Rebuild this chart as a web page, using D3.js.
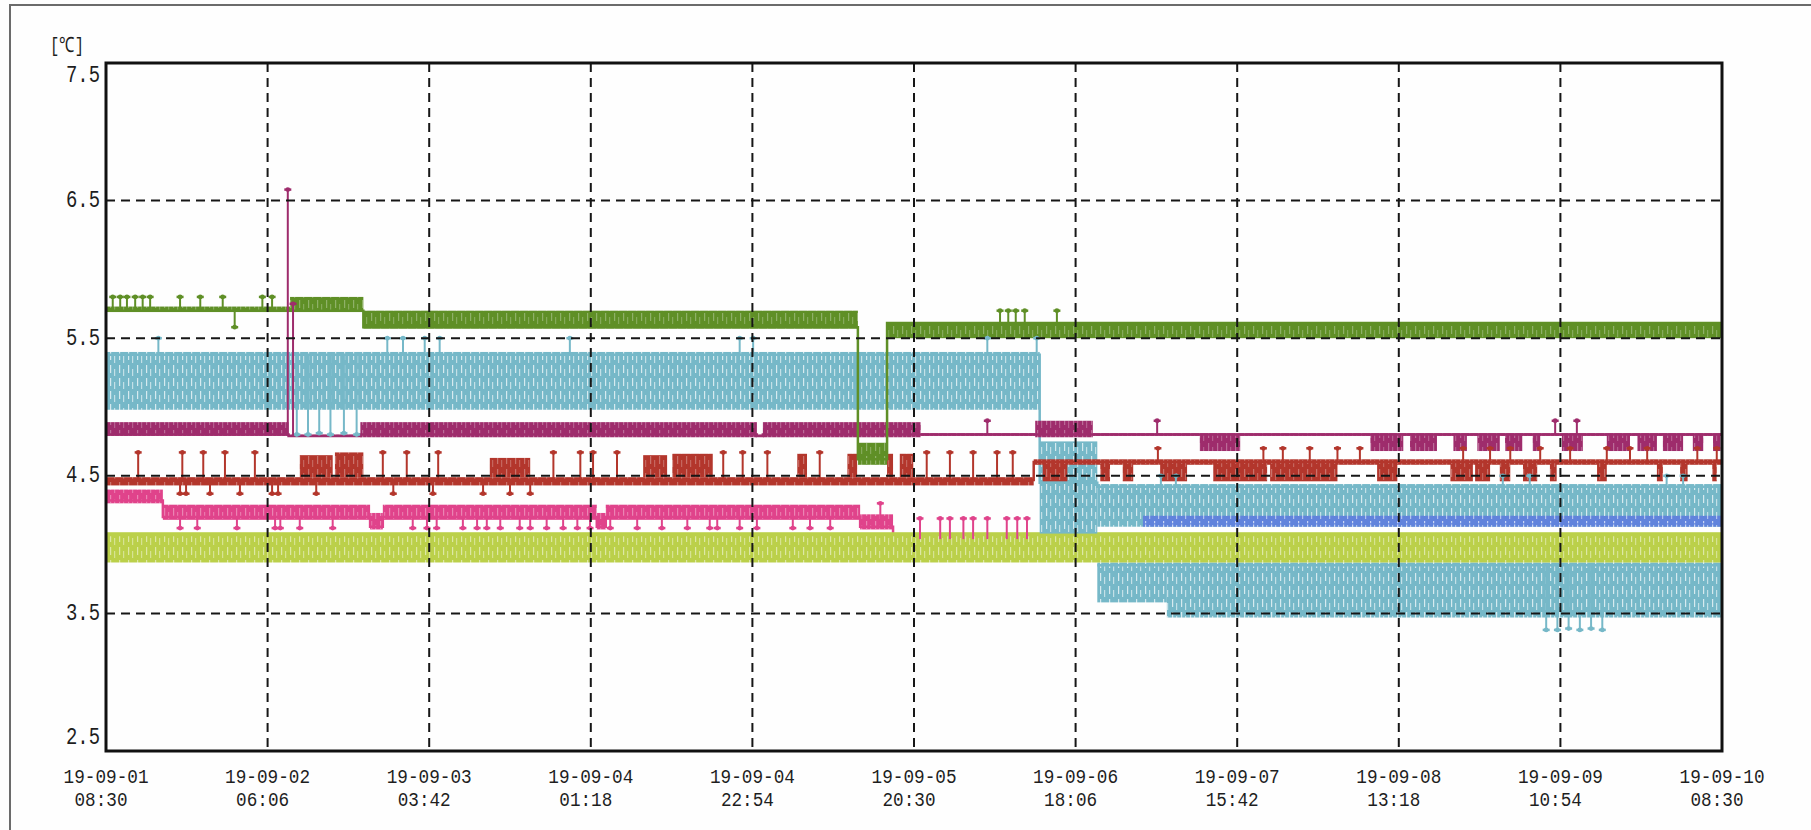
<!DOCTYPE html>
<html>
<head>
<meta charset="utf-8">
<script src="https://cdn.jsdelivr.net/npm/d3@7"></script>
<style>
html, body { margin: 0; padding: 0; background: #fff; }
svg { display: block; }
text { font-family: "Liberation Mono", "DejaVu Sans Mono", monospace; fill: #1e1e1e; }
</style>
</head>
<body>
<div id="chart"></div>
<script>
// time is in hours since 19-09-01 08:30 (axis runs 9 days = 216 h)
const tickDates = ["19-09-01","19-09-02","19-09-03","19-09-04","19-09-04","19-09-05","19-09-06","19-09-07","19-09-08","19-09-09","19-09-10"];
const tickTimes = ["08:30","06:06","03:42","01:18","22:54","20:30","18:06","15:42","13:18","10:54","08:30"];
const tickHours = [0, 21.6, 43.2, 64.8, 86.4, 108, 129.6, 151.2, 172.8, 194.4, 216];
const yTicks = [2.5, 3.5, 4.5, 5.5, 6.5, 7.5];

// bands: [startHour, endHour, low, high, level of the solid trace]
const yellowBands = [[0, 216, 3.87, 4.09, 4.07]];
const tealLowBands = [[132.5, 141.8, 3.58, 3.87, 3.85], [141.8, 216, 3.47, 3.87, 3.85]];
const tealLowPulses = [[192.5, 3.38], [194.0, 3.38], [195.5, 3.39], [197.0, 3.38], [198.5, 3.39], [200.0, 3.38]];

const pinkBands = [[0, 7.6, 4.30, 4.40, 4.32], [7.6, 35.3, 4.18, 4.29, 4.20], [35.3, 37.0, 4.11, 4.23, 4.13],
  [37.0, 65.6, 4.18, 4.29, 4.20], [65.6, 66.8, 4.11, 4.23, 4.13], [66.8, 100.8, 4.18, 4.29, 4.20],
  [100.8, 105.2, 4.11, 4.22, 4.13], [105.2, 216, 4.00, 4.06, 4.04]];
const pinkPulses = [[9.9, 4.12], [12.2, 4.12], [17.5, 4.12], [22.6, 4.12], [23.3, 4.12], [25.9, 4.12], [30.3, 4.12],
  [41.0, 4.12], [42.9, 4.12], [44.2, 4.12], [47.7, 4.12], [49.6, 4.12], [50.9, 4.12], [52.7, 4.12], [55.3, 4.12],
  [56.7, 4.12], [58.9, 4.12], [61.1, 4.12], [63.0, 4.12], [64.7, 4.12], [67.4, 4.12], [71.0, 4.12], [74.3, 4.12],
  [77.7, 4.12], [80.7, 4.12], [81.7, 4.12], [84.7, 4.12], [87.0, 4.12], [91.8, 4.12], [94.1, 4.12], [96.8, 4.12],
  [103.5, 4.30], [108.8, 4.19], [111.5, 4.19], [112.8, 4.19], [114.6, 4.19], [115.9, 4.19], [117.8, 4.19],
  [120.4, 4.19], [121.8, 4.19], [123.1, 4.19]];

const tealBands = [[0, 124.8, 4.98, 5.40, 5.38], [124.8, 132.5, 4.08, 4.75, 4.45], [132.5, 216, 4.13, 4.44, 4.42]];
const tealPulses = [[7.0, 5.50], [37.6, 5.50], [39.7, 5.50], [42.6, 5.50], [44.6, 5.50], [62.0, 5.50], [84.7, 5.50],
  [86.5, 5.50], [117.8, 5.50], [124.4, 5.50], [25.5, 4.80], [27.0, 4.80], [28.5, 4.81], [30.0, 4.80], [31.8, 4.81],
  [33.5, 4.80], [141.0, 4.50], [143.0, 4.50], [186.7, 4.50], [190.3, 4.50], [208.6, 4.50], [210.8, 4.50]];

const blueBands = [[138.6, 216, 4.13, 4.21, 4.15]];

const purpleBands = [[0, 24.4, 4.79, 4.89, 4.80], [24.4, 34.0, 4.79, 4.80, 4.79], [34.0, 87.0, 4.78, 4.89, 4.80],
  [87.0, 87.8, 4.79, 4.80, 4.79], [87.8, 108.9, 4.78, 4.89, 4.80], [108.9, 124.2, 4.79, 4.81, 4.80],
  [124.2, 131.9, 4.78, 4.90, 4.80], [131.9, 216, 4.79, 4.81, 4.80]];
const purpleDrops = [[146.2, 151.6, 4.68, 4.80], [169.0, 173.4, 4.68, 4.80], [174.3, 177.9, 4.68, 4.80],
  [180.1, 181.9, 4.68, 4.80], [183.3, 186.3, 4.68, 4.80], [187.0, 189.3, 4.68, 4.80], [190.7, 191.7, 4.68, 4.80],
  [194.6, 197.4, 4.68, 4.80], [200.6, 203.7, 4.68, 4.80], [204.7, 207.3, 4.68, 4.80], [208.1, 210.8, 4.68, 4.80],
  [212.1, 213.5, 4.68, 4.80], [214.8, 215.8, 4.68, 4.80]];
const purplePulses = [[24.3, 6.58], [25.0, 5.75], [117.8, 4.90], [140.5, 4.90], [193.7, 4.90], [196.6, 4.90]];

const redBands = [[0, 124.0, 4.43, 4.49, 4.47], [124.0, 216, 4.58, 4.62, 4.60]];
const redBlocks = [[25.9, 30.3, 4.49, 4.65], [30.6, 34.4, 4.49, 4.67], [51.3, 56.7, 4.49, 4.63], [71.8, 75.0, 4.49, 4.65],
  [75.7, 81.1, 4.49, 4.66], [92.4, 93.7, 4.49, 4.66], [99.1, 100.4, 4.49, 4.66], [104.4, 105.2, 4.49, 4.66],
  [106.1, 107.9, 4.49, 4.66], [125.2, 128.5, 4.46, 4.60], [132.9, 134.2, 4.46, 4.60], [135.9, 137.3, 4.46, 4.60],
  [140.9, 144.5, 4.46, 4.60], [148.0, 155.2, 4.46, 4.60], [155.6, 164.6, 4.46, 4.60], [169.9, 172.6, 4.46, 4.60],
  [179.7, 182.7, 4.46, 4.60], [183.0, 185.0, 4.46, 4.60], [186.3, 187.7, 4.46, 4.60], [189.4, 191.3, 4.46, 4.60],
  [193.0, 193.9, 4.46, 4.60], [199.3, 200.6, 4.46, 4.60], [207.3, 208.1, 4.46, 4.60], [210.4, 211.4, 4.46, 4.60],
  [214.7, 215.3, 4.46, 4.60]];
const redPulses = [[4.3, 4.67], [10.2, 4.67], [13.0, 4.67], [15.9, 4.67], [19.9, 4.67], [37.0, 4.67], [40.2, 4.67],
  [44.4, 4.67], [59.8, 4.67], [63.4, 4.67], [65.1, 4.67], [68.3, 4.67], [82.5, 4.67], [85.1, 4.67], [88.4, 4.67],
  [95.4, 4.67], [109.7, 4.67], [112.8, 4.67], [115.9, 4.67], [119.1, 4.67], [121.2, 4.67],
  [9.9, 4.37], [10.7, 4.37], [13.9, 4.37], [17.9, 4.37], [22.2, 4.37], [23.0, 4.37], [28.1, 4.37], [38.4, 4.37],
  [43.7, 4.37], [50.4, 4.37], [54.0, 4.37], [56.7, 4.37],
  [140.6, 4.70], [154.7, 4.70], [157.3, 4.70], [160.9, 4.70], [164.6, 4.70], [167.6, 4.70], [181.4, 4.70],
  [185.0, 4.70], [187.7, 4.70], [191.7, 4.70], [195.7, 4.70], [200.6, 4.70], [203.7, 4.70], [206.0, 4.70],
  [212.7, 4.70], [215.3, 4.70]];

const greenBands = [[0, 24.6, 5.69, 5.73, 5.70], [24.6, 34.4, 5.69, 5.80, 5.70], [34.4, 100.5, 5.57, 5.70, 5.58],
  [100.5, 104.4, 4.58, 4.74, 4.62], [104.4, 216, 5.50, 5.61, 5.61]];
const greenPulses = [[0.9, 5.80], [1.9, 5.80], [2.8, 5.80], [3.9, 5.80], [4.9, 5.80], [5.9, 5.80], [9.9, 5.80],
  [12.6, 5.80], [15.6, 5.80], [20.9, 5.80], [22.2, 5.80], [17.2, 5.58],
  [119.5, 5.70], [120.6, 5.70], [121.6, 5.70], [122.8, 5.70], [127.1, 5.70]];

const series = [
  { id: "tealLow", color: "#76b8c8", stripe: 0.7, width: 2.5, bands: tealLowBands, blocks: [], pulses: tealLowPulses },
  { id: "pink", color: "#e0438b", stripe: 0.35, width: 2.5, bands: pinkBands, blocks: [], pulses: pinkPulses },
  { id: "yellow", color: "#bbd04a", stripe: 0.5, width: 2.5, bands: yellowBands, blocks: [], pulses: [] },
  { id: "teal", color: "#76b8c8", stripe: 0.7, width: 2.5, bands: tealBands, blocks: [], pulses: tealPulses },
  { id: "blue", color: "#6183dc", stripe: 0.65, width: 1.2, bands: blueBands, blocks: [], pulses: [] },
  { id: "purple", color: "#9e2c6c", stripe: 0.3, width: 2.5, bands: purpleBands, blocks: purpleDrops, pulses: purplePulses },
  { id: "red", color: "#b3362c", stripe: 0.3, width: 2.5, bands: redBands, blocks: redBlocks, pulses: redPulses },
  { id: "green", color: "#5f8f26", stripe: 0.3, width: 2.5, bands: greenBands, blocks: [], pulses: greenPulses }
];

const W = 1811, H = 830;
const PL = 106, PR = 1722, PT = 63, PB = 751;

const x = d3.scaleLinear().domain([0, 216]).range([PL, PR]);
const y = d3.scaleLinear().domain([2.5, 7.5]).range([PB, PT]);

const svg = d3.select("#chart").append("svg").attr("width", W).attr("height", H);
svg.append("rect").attr("width", W).attr("height", H).attr("fill", "#fefefe");

// scan frame
svg.append("path").attr("d", "M10,830V5H1811").attr("fill", "none").attr("stroke", "#6b6b6b").attr("stroke-width", 2);

const defs = svg.append("defs");
defs.append("clipPath").attr("id", "plot-clip")
  .append("rect").attr("x", PL).attr("y", PT).attr("width", PR - PL).attr("height", PB - PT);

// stripy fill to imitate the dense recorder trace
series.forEach(s => {
  const p = defs.append("pattern").attr("id", "pat-" + s.id)
    .attr("patternUnits", "userSpaceOnUse").attr("width", 9).attr("height", 13);
  p.append("rect").attr("width", 9).attr("height", 13).attr("fill", s.color);
  p.append("rect").attr("x", 2).attr("y", 1).attr("width", 1.2).attr("height", 8).attr("fill", "#fff").attr("opacity", s.stripe);
  p.append("rect").attr("x", 6).attr("y", 5).attr("width", 1.2).attr("height", 7).attr("fill", "#fff").attr("opacity", s.stripe * 0.8);
});

const plot = svg.append("g").attr("clip-path", "url(#plot-clip)");

const traceLine = d3.line().x(d => x(d[0])).y(d => y(d[1]));
const levelAt = (bands, t) => {
  const b = bands.find(b => t >= b[0] && t <= b[1]);
  return b ? b[4] : bands[0][4];
};

series.forEach(s => {
  const g = plot.append("g").attr("class", "series-" + s.id);
  g.selectAll("rect.band").data(s.bands.concat(s.blocks)).join("rect")
    .attr("class", "band")
    .attr("x", d => x(d[0])).attr("width", d => x(d[1]) - x(d[0]))
    .attr("y", d => y(d[3])).attr("height", d => y(d[2]) - y(d[3]))
    .attr("fill", "url(#pat-" + s.id + ")");
  g.append("path")
    .attr("d", traceLine(s.bands.flatMap(b => [[b[0], b[4]], [b[1], b[4]]])))
    .attr("fill", "none").attr("stroke", s.color).attr("stroke-width", s.width);
});

series.forEach(s => {
  const g = plot.append("g").attr("class", "pulses-" + s.id);
  g.selectAll("line.stem").data(s.pulses).join("line")
    .attr("class", "stem")
    .attr("x1", d => x(d[0])).attr("x2", d => x(d[0]))
    .attr("y1", d => y(levelAt(s.bands, d[0]))).attr("y2", d => y(d[1]))
    .attr("stroke", s.color).attr("stroke-width", 2);
  g.selectAll("line.cap").data(s.pulses).join("line")
    .attr("class", "cap")
    .attr("x1", d => x(d[0]) - 3.5).attr("x2", d => x(d[0]) + 3.5)
    .attr("y1", d => y(d[1])).attr("y2", d => y(d[1]))
    .attr("stroke", s.color).attr("stroke-width", 2.5);
  g.selectAll("circle").data(s.pulses).join("circle")
    .attr("cx", d => x(d[0])).attr("cy", d => y(d[1]))
    .attr("r", 2.4).attr("fill", s.color);
});

// dashed grid over the traces
const grid = svg.append("g").attr("stroke", "#161616").attr("stroke-width", 2).attr("stroke-dasharray", "9,6");
grid.selectAll("line.h").data(yTicks.slice(1, -1)).join("line")
  .attr("x1", PL).attr("x2", PR).attr("y1", d => y(d)).attr("y2", d => y(d));
grid.selectAll("line.v").data(tickHours.slice(1, -1)).join("line")
  .attr("y1", PT).attr("y2", PB).attr("x1", d => x(d)).attr("x2", d => x(d));

svg.append("rect").attr("x", PL).attr("y", PT).attr("width", PR - PL).attr("height", PB - PT)
  .attr("fill", "none").attr("stroke", "#111").attr("stroke-width", 3);

// y labels, the end ones are pulled inside the frame
svg.selectAll("text.ylab").data(yTicks).join("text")
  .attr("class", "ylab")
  .attr("x", 100).attr("y", d => Math.min(Math.max(y(d), PT + 12), PB - 14))
  .attr("text-anchor", "end").attr("dominant-baseline", "central")
  .attr("font-size", 24).attr("textLength", 34).attr("lengthAdjust", "spacingAndGlyphs")
  .text(d => d.toFixed(1));

svg.append("text").attr("x", 50).attr("y", 52).attr("font-size", 21)
  .attr("textLength", 34).attr("lengthAdjust", "spacingAndGlyphs").text("[℃]");

// two-line x labels: date, then time
const xl = svg.selectAll("g.xlab").data(tickHours).join("g").attr("class", "xlab");
xl.append("text")
  .attr("x", d => x(d)).attr("y", 783).attr("text-anchor", "middle")
  .attr("font-size", 20).attr("textLength", 85).attr("lengthAdjust", "spacingAndGlyphs")
  .text((d, i) => tickDates[i]);
xl.append("text")
  .attr("x", d => x(d) - 5).attr("y", 806).attr("text-anchor", "middle")
  .attr("font-size", 20).attr("textLength", 53).attr("lengthAdjust", "spacingAndGlyphs")
  .text((d, i) => tickTimes[i]);
</script>
</body>
</html>
